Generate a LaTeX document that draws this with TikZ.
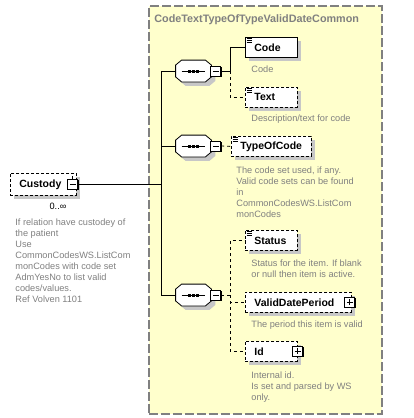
\documentclass[tikz,border=0pt]{standalone}
\usepackage{fontspec}
\setmainfont{Liberation Sans}
\usetikzlibrary{positioning,shadows}

\definecolor{typefill}{HTML}{FFFFCC}
\definecolor{docgray}{HTML}{808080}

\tikzset{
	typebox/.style={draw=docgray, fill=typefill, dash pattern=on 9pt off 3pt, line width=1.5pt, anchor=north west, inner sep=0pt},
	typename/.style={anchor=north west, inner sep=0pt, text=docgray, font=\bfseries\fontsize{10.8}{13}\selectfont},
	shade/.style={drop shadow={shadow xshift=4pt, shadow yshift=-4pt, fill=black!22, opacity=1}},
	elem/.style={draw, fill=white, anchor=north west, minimum height=20pt, inner xsep=9pt, inner ysep=0pt, align=left, font=\bfseries\fontsize{10.5}{12}\selectfont, shade},
	optelem/.style={elem, dash pattern=on 3pt off 2pt},
	doc/.style={anchor=north west, inner sep=0pt, align=left, text=docgray, font=\fontsize{9.2}{11}\selectfont},
	seq/.style={minimum width=35pt, minimum height=21pt, inner sep=0pt},
	btn/.style={draw, fill=white, minimum size=10pt, inner sep=0pt, drop shadow={shadow xshift=1pt, shadow yshift=-1pt, fill=black, opacity=1}},
	minus/.style={btn, path picture={\draw ([xshift=2pt]path picture bounding box.west) -- ([xshift=-2pt]path picture bounding box.east);}},
	plus/.style={btn, path picture={\draw ([xshift=2pt]path picture bounding box.west) -- ([xshift=-2pt]path picture bounding box.east); \draw ([yshift=-2pt]path picture bounding box.north) -- ([yshift=2pt]path picture bounding box.south);}},
	link/.style={line width=0.8pt},
	optlink/.style={link, dash pattern=on 3pt off 3pt}
}

\begin{document}
\begin{tikzpicture}[x=1pt, y=-1pt, line width=0.8pt]
	\useasboundingbox (0,0) rectangle (413,418);
	% complex type
	\node[typebox, minimum width=233pt, minimum height=408pt] (type) at (148,5) {};
	\node[typename] (typelabel) at (154,14) {CodeTextTypeOfTypeValidDateCommon};

	% root element
	\node[optelem, text width=48pt, minimum height=22pt] (custody) at (10,173) {Custody};
	\node[minus] (custodybtn) at ([xshift=-4pt]custody.east) {};
	\draw[link] (custodybtn.north) -- ++(0,3pt);
	\node[anchor=north, inner sep=0pt, font=\fontsize{9.2}{11}\selectfont] (custodyocc) at (58,203) {0..∞};
	\node[doc] (custodydoc) at (15,218) {If relation have custodey of\\the patient\\Use\\CommonCodesWS.ListCom\\monCodes with code set\\AdmYesNo to list valid\\codes/values.\\Ref Volven 1101};

	% sequences
	\node[seq] (seq1) at (193.5,71) {};
	\node[seq] (seq2) at (193.5,146) {};
	\node[seq] (seq3) at (193.5,295) {};
	\foreach \s in {seq1,seq2,seq3} {
		\filldraw[fill=white, shade] ([xshift=6pt]\s.north west) -- ([xshift=-6pt]\s.north east) -- ([yshift=-5pt]\s.north east) -- ([yshift=5pt]\s.south east) -- ([xshift=-6pt]\s.south east) -- ([xshift=6pt]\s.south west) -- ([yshift=5pt]\s.south west) -- ([yshift=-5pt]\s.north west) -- cycle;
		\draw ([xshift=6pt]\s.west) -- ([xshift=-6pt]\s.east);
		\foreach \d in {-5.5pt,-1.5pt,2.5pt}
			\fill ([xshift=\d,yshift=-1.5pt]\s.center) rectangle +(3pt,3pt);
		\node[minus, right=-1pt of \s] (\s-btn) {};
	}

	% elements
	\node[elem, text width=34pt] (code) at (245,37) {Code};
	\node[optelem, text width=34pt] (textelem) at (245,87) {Text};
	\node[optelem, text width=62pt] (typeofcode) at (231,136) {TypeOfCode};
	\node[optelem, text width=34pt] (status) at (245,230) {Status};
	\node[optelem, text width=88pt] (validdateperiod) at (245,292) {ValidDatePeriod};
	\node[optelem, text width=34pt] (id) at (245,341) {Id};
	\node[plus] (validdateperiod-btn) at ([xshift=-2pt]validdateperiod.east) {};
	\node[plus] (id-btn) at (id.east) {};

	% simple content marks
	\foreach \n in {code,textelem,typeofcode,status}
		\foreach \k in {1.5pt,3.2pt,4.9pt}
			\draw[line width=0.6pt] ([xshift=1.5pt,yshift=-\k]\n.north west) -- ++(5pt,0);

	% annotations
	\node[doc] (codedoc) at (251,65) {Code};
	\node[doc] (textdoc) at (251,114) {Description/text for code};
	\node[doc] (typeofcodedoc) at (236,166) {The code set used, if any.\\Valid code sets can be found\\in\\CommonCodesWS.ListCom\\monCodes};
	\node[doc] (statusdoc) at (251,259) {Status for the item. If blank\\or null then item is active.};
	\node[doc] (validdateperioddoc) at (251,320) {The period this item is valid};
	\node[doc] (iddoc) at (251,371) {Internal id.\\Is set and parsed by WS\\only.};

	% connectors
	\coordinate (trunk) at (161,0);
	\draw[link] (custodybtn.east) -- (custodybtn.east -| trunk);
	\draw[link] (seq1.west) -| (trunk |- seq3) -- (seq3.west);
	\draw[link] (seq2.west) -- (seq2 -| trunk);
	\draw[link] (seq1-btn.east) -- ++(9pt,0) coordinate (fork1) |- (code.west);
	\draw[optlink] (fork1) |- (textelem.west);
	\draw[optlink] (seq2-btn.east) -- (typeofcode.west);
	\draw[optlink] (seq3-btn.east) -- ++(9pt,0) coordinate (fork3) |- (status.west);
	\draw[optlink] (fork3) |- (validdateperiod.west);
	\draw[optlink] (fork3) |- (id.west);
\end{tikzpicture}
\end{document}
